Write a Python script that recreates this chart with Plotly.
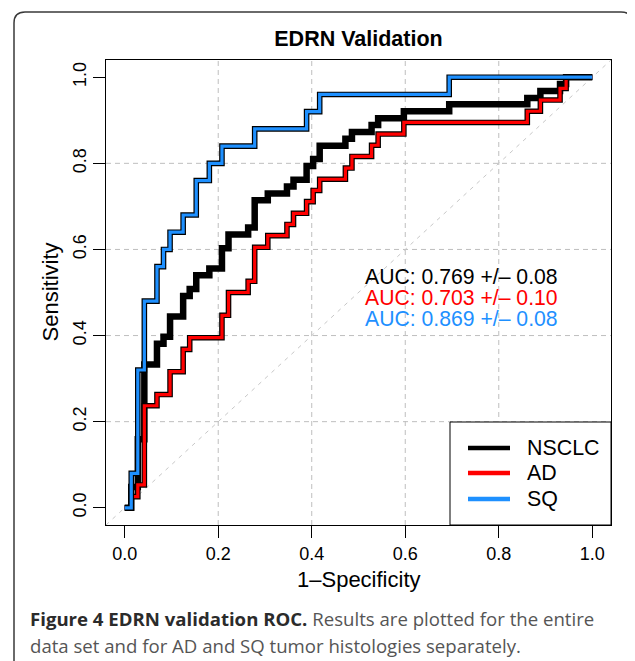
import plotly.graph_objects as go

# ---------------- data ----------------
# ROC corner points (1-specificity, sensitivity), drawn as step ("hv") lines
nsclc_fpr = [0, 0.014, 0.028, 0.042, 0.069, 0.083, 0.097, 0.125, 0.139, 0.153, 0.181,
             0.208, 0.222, 0.264, 0.278, 0.306, 0.347, 0.361, 0.389, 0.403, 0.417,
             0.472, 0.486, 0.528, 0.542, 0.597, 0.694, 0.861, 0.889, 0.931, 0.944, 1.0]
nsclc_tpr = [0, 0.048, 0.159, 0.333, 0.381, 0.397, 0.444, 0.492, 0.508, 0.540, 0.556,
             0.603, 0.635, 0.651, 0.714, 0.730, 0.746, 0.762, 0.794, 0.810, 0.841,
             0.857, 0.873, 0.889, 0.905, 0.921, 0.937, 0.952, 0.968, 0.984, 1.0, 1.0]

ad_fpr = [0, 0.014, 0.028, 0.042, 0.069, 0.097, 0.125, 0.139, 0.208, 0.222, 0.264,
          0.278, 0.306, 0.347, 0.361, 0.389, 0.403, 0.417, 0.472, 0.486, 0.528,
          0.542, 0.597, 0.861, 0.889, 0.931, 0.944, 1.0]
ad_tpr = [0, 0.026, 0.053, 0.237, 0.263, 0.316, 0.368, 0.395, 0.447, 0.500, 0.526,
          0.605, 0.632, 0.658, 0.684, 0.711, 0.737, 0.763, 0.789, 0.816, 0.842,
          0.868, 0.895, 0.921, 0.947, 0.974, 1.0, 1.0]

sq_fpr = [0, 0.014, 0.028, 0.042, 0.069, 0.083, 0.097, 0.125, 0.153, 0.181, 0.208,
          0.278, 0.389, 0.417, 0.694, 1.0]
sq_tpr = [0, 0.08, 0.32, 0.48, 0.56, 0.60, 0.64, 0.68, 0.76, 0.80, 0.84,
          0.88, 0.92, 0.96, 1.0, 1.0]

series_names = ["NSCLC", "AD", "SQ"]
series_colors = ["#000000", "#FF0000", "#1E90FF"]
auc_labels = ["AUC: 0.769 +/\u2013 0.08", "AUC: 0.703 +/\u2013 0.10", "AUC: 0.869 +/\u2013 0.08"]

tick_vals = [0.0, 0.2, 0.4, 0.6, 0.8, 1.0]
tick_text = ["0.0", "0.2", "0.4", "0.6", "0.8", "1.0"]
grid_vals = [0.2, 0.4, 0.6, 0.8]

title_text = "EDRN Validation"
x_title = "1\u2013Specificity"
y_title = "Sensitivity"
caption_bold = "Figure 4 EDRN validation ROC."
caption_rest1 = " Results are plotted for the entire"
caption_line2 = "data set and for AD and SQ tumor histologies separately."

# ---------------- layout geometry ----------------
# the page body has an 8px margin, so the figure is shifted by that offset and
# all reference-pixel positions are converted accordingly
OFF = 8
W, H = 635 - OFF, 661 - OFF
L, T = 106 - OFF, 60 - OFF
R = 635 - 611
B = H - (525 - OFF)
PW, PH = W - L - R, H - T - B
AX_RANGE = [-0.04, 1.04]
FONT = "Liberation Sans, Arial, Helvetica, sans-serif"


def px(xr):
    """reference-image x pixel -> paper x"""
    return (xr - OFF - L) / PW


def py(yr):
    """reference-image y pixel -> paper y"""
    return (H - B - (yr - OFF)) / PH


fig = go.Figure()

# curves: NSCLC (black), AD (red w/ black outline), SQ (blue w/ black outline)
fig.add_trace(go.Scatter(x=nsclc_fpr, y=nsclc_tpr, mode="lines", line_shape="hv",
                         line=dict(color=series_colors[0], width=6.5), showlegend=False,
                         hoverinfo="skip"))
for fx, ty, col in [(ad_fpr, ad_tpr, series_colors[1]), (sq_fpr, sq_tpr, series_colors[2])]:
    fig.add_trace(go.Scatter(x=fx, y=ty, mode="lines", line_shape="hv",
                             line=dict(color="#000000", width=5.6), showlegend=False,
                             hoverinfo="skip"))
    fig.add_trace(go.Scatter(x=fx, y=ty, mode="lines", line_shape="hv",
                             line=dict(color=col, width=3.2), showlegend=False,
                             hoverinfo="skip"))

shapes = []
# dashed grid
for g in grid_vals:
    shapes.append(dict(type="line", xref="x", yref="paper", x0=g, x1=g, y0=0, y1=1,
                       line=dict(color="#BEBEBE", width=1, dash="5px,4px"), layer="below"))
    shapes.append(dict(type="line", xref="paper", yref="y", x0=0, x1=1, y0=g, y1=g,
                       line=dict(color="#BEBEBE", width=1, dash="5px,4px"), layer="below"))
# diagonal reference line (abline 0,1)
shapes.append(dict(type="line", xref="x", yref="y", x0=AX_RANGE[0], y0=AX_RANGE[0],
                   x1=AX_RANGE[1], y1=AX_RANGE[1],
                   line=dict(color="#C8C8C8", width=1, dash="4px,5px"), layer="below"))

# legend box
shapes.append(dict(type="rect", xref="paper", yref="paper", x0=px(450), x1=1, y0=0, y1=py(422),
                   line=dict(color="#000000", width=1), fillcolor="white", layer="above"))
leg_y = [448, 473, 499]
annotations = []
for i, name in enumerate(series_names):
    shapes.append(dict(type="line", xref="paper", yref="paper", x0=px(468), x1=px(510),
                       y0=py(leg_y[i]), y1=py(leg_y[i]),
                       line=dict(color=series_colors[i], width=4.5)))
    annotations.append(dict(text=name, xref="paper", yref="paper", x=px(525), y=py(leg_y[i]),
                            xanchor="left", yanchor="middle", showarrow=False,
                            font=dict(family=FONT, size=21.4, color="#000000")))

# AUC text
auc_y = [0.537, 0.488, 0.440]
for i, t in enumerate(auc_labels):
    annotations.append(dict(text=t, xref="x", yref="y", x=0.509, y=auc_y[i],
                            xanchor="left", yanchor="middle", showarrow=False,
                            font=dict(family=FONT, size=21.2, color=series_colors[i])))

# axis titles
annotations.append(dict(text=x_title, xref="paper", yref="paper", x=0.5, y=py(579),
                        xanchor="center", yanchor="middle", showarrow=False,
                        font=dict(family=FONT, size=22, color="#000000")))
annotations.append(dict(text=y_title, xref="paper", yref="paper", x=px(50), y=0.5,
                        xanchor="center", yanchor="middle", showarrow=False, textangle=-90,
                        font=dict(family=FONT, size=22, color="#000000")))

# caption
CAP_FONT = "Open Sans, Noto Sans, sans-serif"
annotations.append(dict(
    text=f"<b><span style='color:#2b2b2b'>{caption_bold}</span></b>"
         f"<span style='color:#555555'>{caption_rest1}</span>",
    xref="paper", yref="paper", x=px(28), y=py(618), xanchor="left", yanchor="middle",
    showarrow=False, font=dict(family=CAP_FONT, size=18.6, color="#555555")))
annotations.append(dict(
    text=caption_line2, xref="paper", yref="paper", x=px(28), y=py(645),
    xanchor="left", yanchor="middle", showarrow=False,
    font=dict(family=CAP_FONT, size=18.6, color="#555555")))

# outer rounded border
lx, rx_, ty_, by_ = px(14), px(632), py(12), py(720)
cx, cy = 11 / PW, 11 / PH
border_path = (f"M {lx + cx},{ty_} L {rx_ - cx},{ty_} Q {rx_},{ty_} {rx_},{ty_ - cy} "
               f"L {rx_},{by_} L {lx},{by_} L {lx},{ty_ - cy} Q {lx},{ty_} {lx + cx},{ty_} Z")
shapes.append(dict(type="path", xref="paper", yref="paper", path=border_path,
                   line=dict(color="#3a3a3a", width=1.5), fillcolor="rgba(0,0,0,0)",
                   layer="above"))

axis_common = dict(range=AX_RANGE, tickvals=tick_vals, ticktext=tick_text, showgrid=False,
                   zeroline=False, showline=True, mirror=True, linecolor="#000000",
                   linewidth=1, ticks="outside", ticklen=12, tickwidth=1,
                   tickcolor="#000000", tickfont=dict(family=FONT, size=18, color="#000000"),
                   fixedrange=True)

fig.update_layout(
    width=W, height=H,
    margin=dict(l=L, r=R, t=T, b=B, pad=0),
    paper_bgcolor="white", plot_bgcolor="white",
    showlegend=False,
    title=dict(text=f"<b>{title_text}</b>", x=0.5, xref="paper", xanchor="center",
               y=1 - (38 - OFF) / H, yref="container", yanchor="middle",
               font=dict(family=FONT, size=21.5, color="#000000")),
    xaxis=dict(**axis_common),
    yaxis=dict(**axis_common, tickangle=-90),
    shapes=shapes,
    annotations=annotations,
)

fig.write_html("out.html")
